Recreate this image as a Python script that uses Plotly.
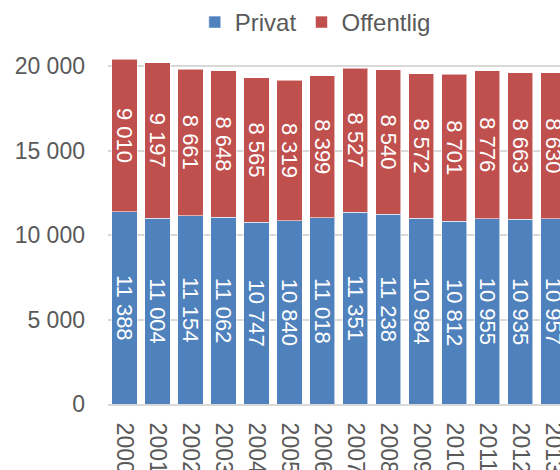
"""Stacked bars: Privat vs Offentlig, 2000-2013."""

import plotly.graph_objects as go

YEARS = [str(y) for y in range(2000, 2014)]
PRIVAT = [11388, 11004, 11154, 11062, 10747, 10840, 11018, 11351, 11238, 10984, 10812, 10955, 10935, 10957]
OFFENTLIG = [9010, 9197, 8661, 8648, 8565, 8319, 8399, 8527, 8540, 8572, 8701, 8776, 8663, 8630]

BLUE = "#4F81BD"
RED = "#C0504D"
TEXT = "#595959"
GRID = "#D9D9D9"
FONT = "Liberation Sans, Arial, sans-serif"

fig = go.Figure()

for name, vals, color in [("Privat", PRIVAT, BLUE), ("Offentlig", OFFENTLIG, RED)]:
    fig.add_trace(go.Bar(
        x=YEARS,
        y=vals,
        name=name,
        marker={"color": color, "line": {"color": "rgba(255,255,255,0.55)", "width": 1}},
        texttemplate="%{y:,.0f}",
        textposition="inside",
        insidetextanchor="middle",
        textangle=90,
        textfont={"size": 22, "color": "white", "family": FONT},
        hoverinfo="skip",
    ))

fig.update_layout(
    width=560,
    height=470,
    barmode="stack",
    bargap=0.24,
    separators=", ",
    margin={"l": 108, "r": 0, "t": 50, "b": 66},
    paper_bgcolor="white",
    plot_bgcolor="white",
    font={"family": FONT, "size": 22, "color": TEXT},
    uniformtext={"minsize": 22, "mode": "show"},
    legend={
        "orientation": "h",
        "x": 0.192,
        "xanchor": "left",
        "y": 1.079,
        "yanchor": "middle",
        "font": {"size": 24, "color": TEXT},
        "itemwidth": 30,
        "traceorder": "normal",
    },
    xaxis={
        "range": [-0.5, 13.2],
        "tickangle": 90,
        "showgrid": False,
        "showline": True,
        "linecolor": GRID,
        "linewidth": 2,
        "ticks": "",
        "ticklabelstandoff": 12,
        "automargin": False,
        "tickfont": {"size": 23, "color": TEXT},
    },
    yaxis={
        "range": [0, 20947],
        "tickvals": [0, 5000, 10000, 15000, 20000],
        "tickformat": ",d",
        "showgrid": True,
        "gridcolor": GRID,
        "gridwidth": 2,
        "zeroline": False,
        "ticks": "",
        "ticklabelstandoff": 22,
        "automargin": False,
        "tickfont": {"size": 23, "color": TEXT},
    },
)

# drop the default 8px body margin so the figure fills the window
fig.write_html(
    "out.html",
    config={"displayModeBar": False},
    post_script="document.body.style.margin='0';document.body.style.overflow='hidden';",
)
